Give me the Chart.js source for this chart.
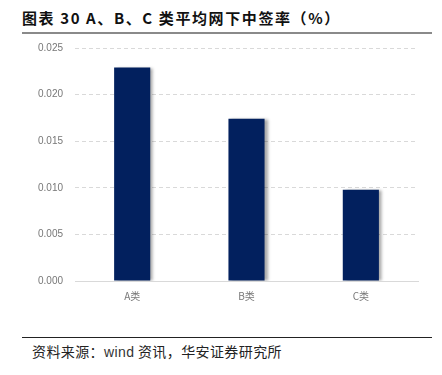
<!DOCTYPE html>
<html>
<head>
<meta charset="utf-8">
<script src="https://cdn.jsdelivr.net/npm/chart.js@4"></script>
<style>
  body { margin: 0; width: 442px; height: 375px; background: #fff; position: relative; overflow: hidden; }
  .title { position: absolute; left: 22px; top: 7px; font: bold 15px "Noto Sans CJK SC", sans-serif; color: #111; letter-spacing: 1.6px; }
  .rule-top { position: absolute; left: 22px; width: 410px; top: 32px; height: 0; border-top: 2px solid #8a8a8a; }
  .rule-bottom { position: absolute; left: 22px; width: 410px; top: 337px; height: 0; border-top: 1px solid #222; }
  .source { position: absolute; left: 32px; top: 341px; font: 14px "Noto Sans CJK SC", sans-serif; color: #222; letter-spacing: 0.4px; }
  .source .w { font-family: "Liberation Sans", Arial, sans-serif; color: #333; }
  #wrap { position: absolute; left: 0; top: 0; width: 442px; height: 303px; }
</style>
</head>
<body>
<div class="title">图表 30 A、B、C 类平均网下中签率（%）</div>
<div class="rule-top"></div>
<div id="wrap"><canvas id="chart"></canvas></div>
<div class="rule-bottom"></div>
<div class="source">资料来源：<span class="w">wind</span> 资讯，华安证券研究所</div>
<script>
const categories = ['A类', 'B类', 'C类'];
const winRates = [0.0229, 0.0174, 0.0098];

// Soft shadow to the right of each bar
const barShadow = {
    id: 'barShadow',
    beforeDatasetsDraw(chart) {
        const ctx = chart.ctx;
        ctx.save();
        ctx.shadowColor = 'rgba(0, 0, 0, 0.35)';
        ctx.shadowOffsetX = 3;
        ctx.shadowOffsetY = 0;
        ctx.shadowBlur = 3;
    },
    afterDatasetsDraw(chart) {
        chart.ctx.restore();
    }
};

const ctx = document.getElementById('chart').getContext('2d');

new Chart(ctx, {
    type: 'bar',
    data: {
        labels: categories,
        datasets: [{
            data: winRates,
            backgroundColor: '#02205e',
            barPercentage: 0.316,
            categoryPercentage: 1
        }]
    },
    options: {
        animation: false,
        responsive: true,
        maintainAspectRatio: false,
        layout: { padding: { top: 48, right: 24, bottom: 0, left: 26 } },
        scales: {
            x: {
                grid: { display: false },
                border: { display: true, color: '#d9d9d9', width: 1 },
                ticks: { color: '#777', font: { size: 10, family: 'Noto Sans CJK SC' }, padding: 1 }
            },
            y: {
                min: 0,
                max: 0.025,
                ticks: {
                    stepSize: 0.005,
                    color: '#777',
                    font: { size: 10, family: 'Liberation Sans' },
                    padding: 12,
                    callback: (val) => val.toFixed(3)
                },
                grid: {
                    color: (c) => c.tick.value === 0 ? 'rgba(0,0,0,0)' : '#d9d9d9',
                    drawTicks: false
                },
                border: { display: false, dash: [4, 3] }
            }
        },
        plugins: {
            legend: { display: false },
            tooltip: { enabled: false }
        }
    },
    plugins: [barShadow]
});
</script>
</body>
</html>
